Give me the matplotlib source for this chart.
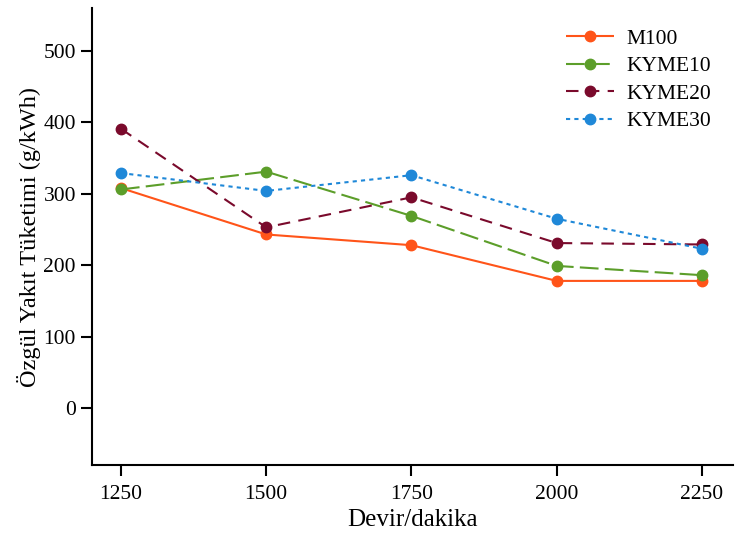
import matplotlib
matplotlib.use("Agg")
import matplotlib.pyplot as plt

rpm = [1250, 1500, 1750, 2000, 2250]
m100 = [308, 243, 228, 178, 178]
kyme10 = [306, 331, 269, 199, 186]
kyme20 = [391, 253, 295, 231, 229]
kyme30 = [329, 304, 326, 265, 223]

series = [
    ("M100", m100, "#ff5419", (0, ())),
    ("KYME10", kyme10, "#5c9e2a", (0, (9, 3))),
    ("KYME20", kyme20, "#7a0a2c", (0, (6, 4))),
    ("KYME30", kyme30, "#1f88d8", (0, (2, 2))),
]

plt.rcParams["font.family"] = ["Liberation Serif", "DejaVu Serif"]

fig = plt.figure(figsize=(7.35, 5.39), dpi=100)
ax = fig.add_axes([0.125, 0.137, 0.872, 0.848])

for name, vals, color, ls in series:
    ax.plot(rpm, vals, color=color, linestyle=ls, linewidth=1.5,
            marker="o", markersize=7.5, label=name)

ax.set_xlim(1200, 2303)
ax.set_ylim(-80, 560)
ax.set_xticks(rpm)
ax.set_yticks([0, 100, 200, 300, 400, 500])
ax.spines["top"].set_visible(False)
ax.spines["right"].set_visible(False)
for s in ("left", "bottom"):
    ax.spines[s].set_linewidth(1.5)
ax.tick_params(axis="both", labelsize=15.5, width=1.5, length=8, direction="out")
ax.tick_params(axis="x", pad=6)
ax.set_xlabel("Devir/dakika", fontsize=18, labelpad=4)
ax.set_ylabel("Özgül Yakıt Tüketimi (g/kWh)", fontsize=17.5, labelpad=2)

ax.legend(loc="upper right", frameon=False, fontsize=15.5,
          bbox_to_anchor=(0.997, 0.997), handlelength=2.2,
          handletextpad=0.6, labelspacing=0.34)

fig.savefig("out.png", dpi=100)
